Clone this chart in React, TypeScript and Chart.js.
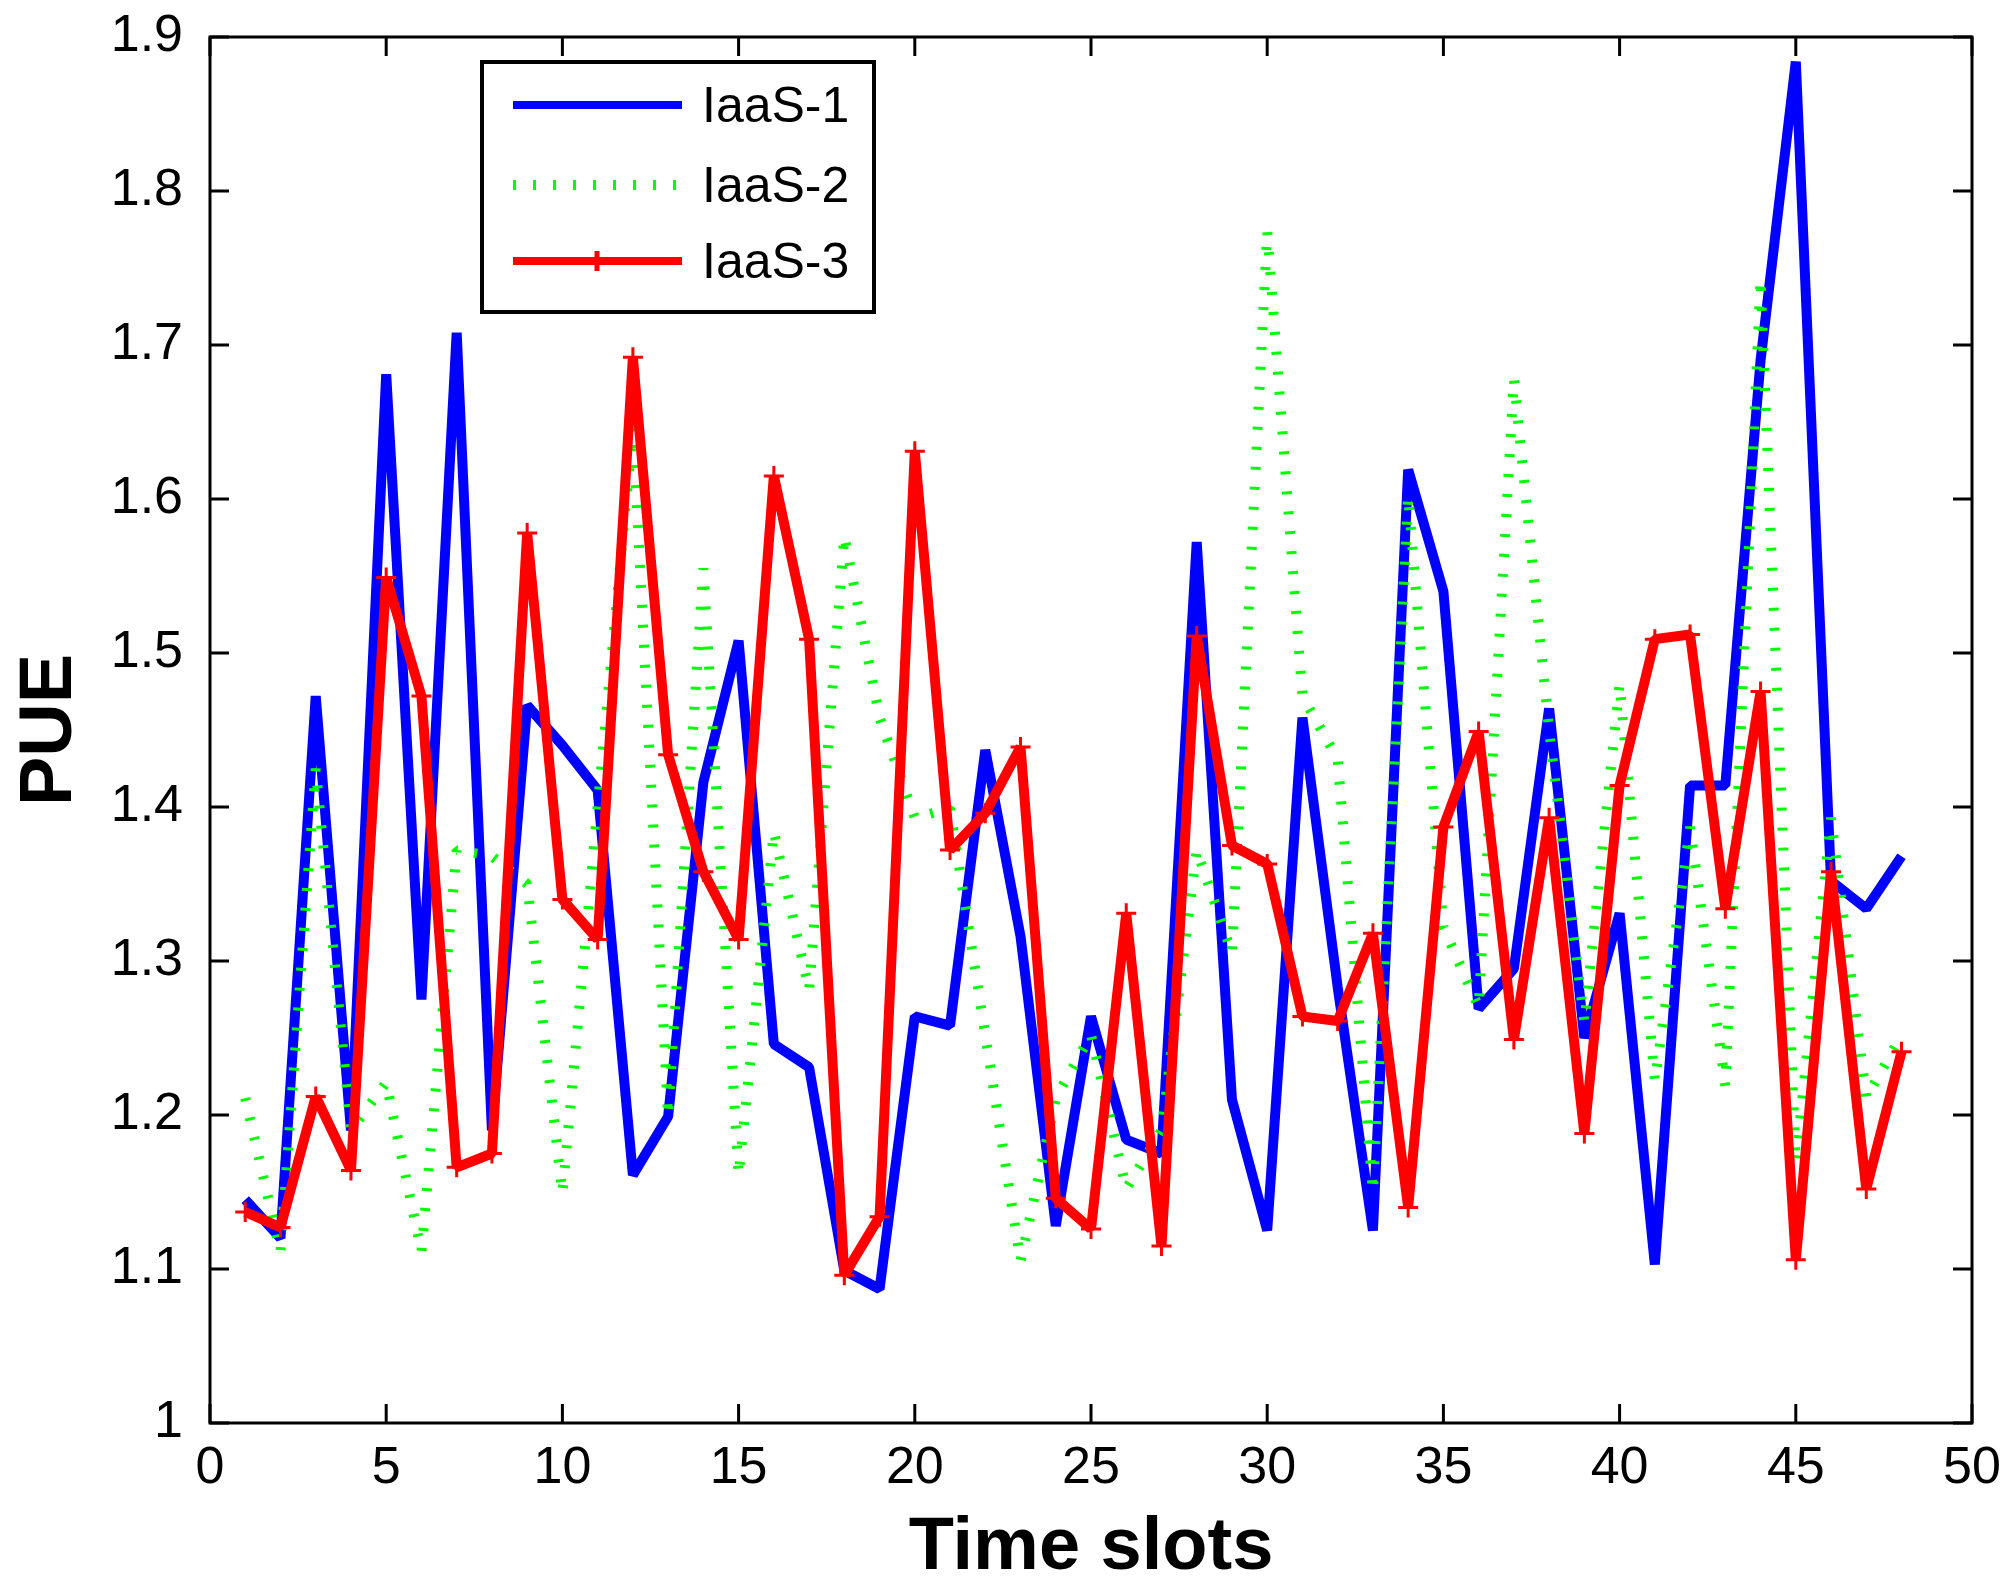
import { useEffect, useRef } from "react";
import { Chart, registerables } from "chart.js";

Chart.register(...registerables);

const TIME_SLOTS = [
  1, 2, 3, 4, 5, 6, 7, 8, 9, 10, 11, 12, 13, 14, 15, 16, 17, 18, 19, 20, 21, 22, 23, 24,
  25, 26, 27, 28, 29, 30, 31, 32, 33, 34, 35, 36, 37, 38, 39, 40, 41, 42, 43, 44, 45, 46, 47, 48,
];

const IAAS_1 = [
  1.145, 1.12, 1.472, 1.19, 1.681, 1.275, 1.708, 1.19, 1.466, 1.44, 1.411, 1.161,
  1.199, 1.416, 1.508, 1.246, 1.231, 1.099, 1.087, 1.264, 1.258, 1.437, 1.316, 1.128,
  1.264, 1.184, 1.175, 1.572, 1.21, 1.125, 1.458, 1.283, 1.125, 1.619, 1.54, 1.269,
  1.295, 1.464, 1.25, 1.331, 1.103, 1.414, 1.414, 1.69, 1.884, 1.352, 1.334, 1.368,
];

const IAAS_2 = [
  1.211, 1.111, 1.425, 1.19, 1.221, 1.111, 1.372, 1.368, 1.35, 1.149, 1.4, 1.646,
  1.199, 1.555, 1.161, 1.384, 1.281, 1.576, 1.458, 1.393, 1.399, 1.252, 1.105, 1.211,
  1.252, 1.152, 1.19, 1.372, 1.305, 1.774, 1.472, 1.431, 1.15, 1.602, 1.322, 1.27,
  1.678, 1.45, 1.26, 1.48, 1.222, 1.387, 1.219, 1.743, 1.169, 1.393, 1.211, 1.252,
];

const IAAS_3 = [
  1.137, 1.127, 1.212, 1.164, 1.549, 1.472, 1.166, 1.175, 1.578, 1.34, 1.314, 1.692,
  1.434, 1.358, 1.314, 1.615, 1.509, 1.096, 1.134, 1.631, 1.372, 1.396, 1.439, 1.146,
  1.126, 1.331, 1.115, 1.511, 1.375, 1.363, 1.264, 1.261, 1.318, 1.14, 1.387, 1.449,
  1.249, 1.393, 1.188, 1.414, 1.509, 1.512, 1.334, 1.475, 1.106, 1.358, 1.152, 1.241,
];

const SERIES_LABELS = ["IaaS-1", "IaaS-2", "IaaS-3"];
const X_TICKS = [0, 5, 10, 15, 20, 25, 30, 35, 40, 45, 50];
const Y_TICKS = [1, 1.1, 1.2, 1.3, 1.4, 1.5, 1.6, 1.7, 1.8, 1.9];

const FONT = "'Liberation Sans', Arial, Helvetica, sans-serif";
const TICK_LEN = 19;

const toPoints = (ys: number[]) => TIME_SLOTS.map((x, i) => ({ x, y: ys[i] }));

// matlab style box, inward ticks and the legend drawn inside the axes
const matlabFrame = {
  id: "matlabFrame",
  afterDatasetsDraw(chart: any) {
    const { ctx, chartArea: a, scales } = chart;
    ctx.save();
    ctx.strokeStyle = "#000";
    ctx.lineWidth = 3;
    ctx.strokeRect(a.left, a.top, a.right - a.left, a.bottom - a.top);
    ctx.beginPath();
    for (const v of X_TICKS) {
      const px = scales.x.getPixelForValue(v);
      ctx.moveTo(px, a.bottom);
      ctx.lineTo(px, a.bottom - TICK_LEN);
      ctx.moveTo(px, a.top);
      ctx.lineTo(px, a.top + TICK_LEN);
    }
    for (const v of Y_TICKS) {
      const py = scales.y.getPixelForValue(v);
      ctx.moveTo(a.left, py);
      ctx.lineTo(a.left + TICK_LEN, py);
      ctx.moveTo(a.right, py);
      ctx.lineTo(a.right - TICK_LEN, py);
    }
    ctx.stroke();

    // legend
    const left = a.left + 272;
    const top = a.top + 25;
    const rows = [43, 123, 199];
    ctx.fillStyle = "#fff";
    ctx.fillRect(left, top, 392, 250);
    ctx.lineWidth = 4;
    ctx.strokeRect(left, top, 392, 250);
    chart.data.datasets.forEach((ds: any, i: number) => {
      const y = top + rows[i];
      ctx.save();
      ctx.strokeStyle = ds.borderColor;
      ctx.lineWidth = Math.min(ds.borderWidth, 8);
      if (ds.borderDash) ctx.lineWidth = ds.borderWidth;
      ctx.lineCap = "butt";
      ctx.setLineDash(ds.borderDash || []);
      ctx.beginPath();
      ctx.moveTo(left + 31, y);
      ctx.lineTo(left + 200, y);
      ctx.stroke();
      ctx.restore();
      if (ds.pointStyle === "cross") {
        ctx.save();
        ctx.strokeStyle = ds.borderColor;
        ctx.lineWidth = ds.pointBorderWidth + 2;
        ctx.beginPath();
        ctx.moveTo(left + 115, y - ds.pointRadius);
        ctx.lineTo(left + 115, y + ds.pointRadius);
        ctx.stroke();
        ctx.restore();
      }
      ctx.fillStyle = "#000";
      ctx.font = `50px ${FONT}`;
      ctx.textBaseline = "middle";
      ctx.textAlign = "left";
      ctx.fillText(ds.label, left + 220, y + 3);
    });
    ctx.restore();
  },
};

export default function App() {
  const chartRef = useRef<HTMLCanvasElement | null>(null);

  useEffect(() => {
    const ctx = chartRef.current?.getContext("2d");
    if (!ctx) return;
    const chart = new Chart(ctx, {
      type: "line",
      data: {
        datasets: [
          {
            label: SERIES_LABELS[0],
            data: toPoints(IAAS_1),
            borderColor: "#0000ff",
            borderWidth: 10,
            borderJoinStyle: "bevel",
            pointRadius: 0,
            order: 3,
          },
          {
            label: SERIES_LABELS[1],
            data: toPoints(IAAS_2),
            borderColor: "#00ff00",
            borderWidth: 10,
            borderDash: [3, 17],
            borderCapStyle: "butt",
            borderJoinStyle: "bevel",
            pointRadius: 0,
            order: 2,
          },
          {
            label: SERIES_LABELS[2],
            data: toPoints(IAAS_3),
            borderColor: "#ff0000",
            backgroundColor: "#ff0000",
            borderWidth: 10,
            borderJoinStyle: "bevel",
            pointStyle: "cross",
            pointRadius: 10,
            pointBorderWidth: 3,
            order: 1,
          },
        ] as any,
      },
      options: {
        animation: false,
        responsive: false,
        devicePixelRatio: 1,
        layout: { padding: { top: 37, right: 39, left: 0, bottom: 0 } },
        plugins: { legend: { display: false }, tooltip: { enabled: false } },
        scales: {
          x: {
            type: "linear",
            min: 0,
            max: 50,
            grid: { display: false, drawTicks: false },
            border: { display: false },
            afterBuildTicks: (s: any) => {
              s.ticks = X_TICKS.map((value) => ({ value }));
            },
            afterFit: (s: any) => {
              s.height = 172;
              s.paddingLeft = 0;
              s.paddingRight = 0;
            },
            ticks: {
              padding: 14,
              color: "#000",
              autoSkip: false,
              maxRotation: 0,
              font: { family: FONT, size: 52 },
            },
            title: {
              display: true,
              text: "Time slots",
              color: "#000",
              font: { family: FONT, size: 74, weight: "bold" },
              padding: { top: 0, bottom: 2 },
            },
          },
          y: {
            type: "linear",
            min: 1,
            max: 1.9,
            grid: { display: false, drawTicks: false },
            border: { display: false },
            afterBuildTicks: (s: any) => {
              s.ticks = Y_TICKS.map((value) => ({ value }));
            },
            afterFit: (s: any) => {
              s.width = 210;
              s.paddingTop = 0;
              s.paddingBottom = 0;
            },
            ticks: {
              padding: 27,
              color: "#000",
              autoSkip: false,
              font: { family: FONT, size: 52 },
              callback: (v: any) => String(Math.round(Number(v) * 10) / 10),
            },
            title: {
              display: true,
              text: "PUE",
              color: "#000",
              font: { family: FONT, size: 74, weight: "bold" },
              padding: { top: 6, bottom: 0 },
            },
          },
        },
      },
      plugins: [matlabFrame],
    });
    return () => chart.destroy();
  }, []);

  return (
    <div style={{ position: "absolute", left: 0, top: 0, width: 2011, height: 1595, background: "#fff" }}>
      <canvas ref={chartRef} width={2011} height={1595} style={{ display: "block", width: 2011, height: 1595 }} />
    </div>
  );
}
